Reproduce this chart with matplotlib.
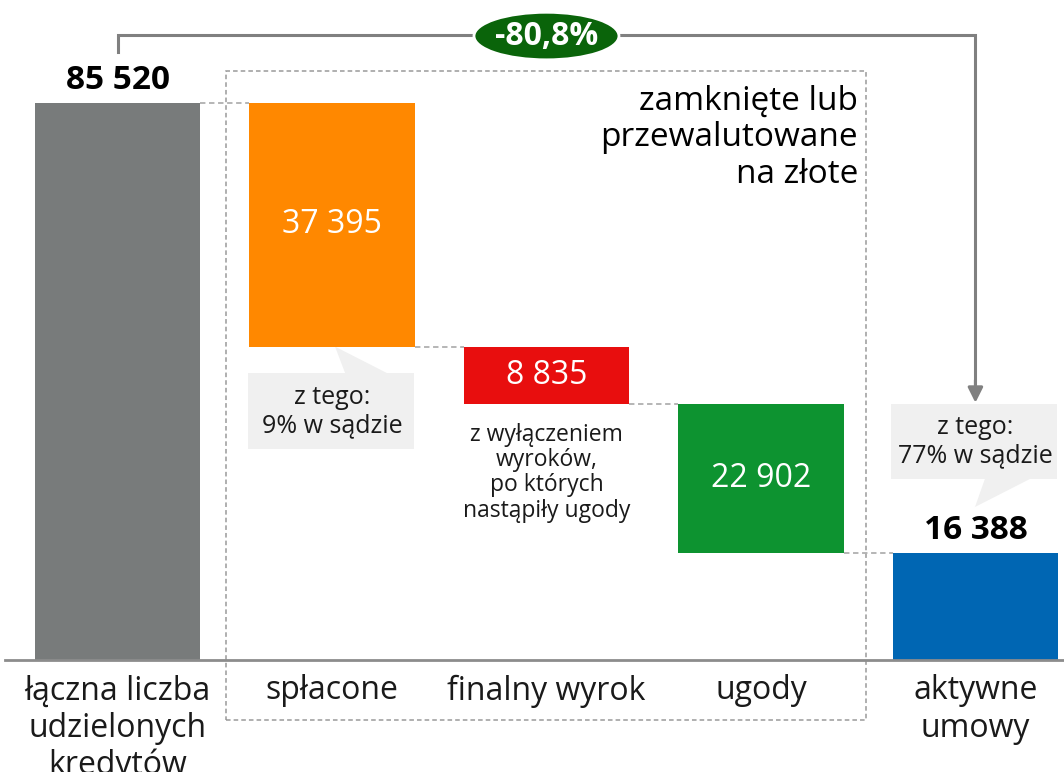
import numpy as np
import matplotlib
matplotlib.use('Agg')
import matplotlib.pyplot as plt
import matplotlib.patches as patches

plt.rcParams['font.family'] = ['Open Sans', 'DejaVu Sans']

# data
categories = ['łączna liczba\nudzielonych\nkredytów', 'spłacone', 'finalny wyrok', 'ugody', 'aktywne\numowy']
values = [85520, 37395, 8835, 22902, 16388]
is_total = [True, False, False, False, True]
colors = ['#787b7b', '#ff8800', '#e80e0e', '#0d9330', '#0066b3']
value_labels = ['85 520', '37 395', '8 835', '22 902', '16 388']
change_label = '-80,8%'
group_label = 'zamknięte lub\nprzewalutowane\nna złote'
note_splacone = 'z tego:\n9% w sądzie'
note_aktywne = 'z tego:\n77% w sądzie'
note_wyrok = 'z wyłączeniem\nwyroków,\npo których\nnastąpiły ugody'

# waterfall bottoms
bottoms = []
level = 0
for v, tot in zip(values, is_total):
    if tot:
        bottoms.append(0)
        level = v
    else:
        level -= v
        bottoms.append(level)
tops = [b + v for b, v in zip(bottoms, values)]

x = np.arange(len(values))
w = 0.77

fig = plt.figure(figsize=(10.64, 7.72), dpi=100)
ax = fig.add_axes([0, 0, 1, 1])
ax.set_xlim(-0.548, 4.413)
ax.set_ylim(-17196, 101335)
ax.axis('off')

ax.bar(x, values, bottom=bottoms, width=w, color=colors, zorder=3)

# baseline
ax.axhline(0, xmin=0.005, xmax=1, color='#8c8c8c', lw=2, zorder=4)

# connectors between bars
for i in range(len(values) - 1):
    y = tops[i] if is_total[i] else bottoms[i]
    ax.plot([x[i] + w / 2, x[i + 1] - w / 2], [y, y], color='#b0b0b0',
            lw=1.3, ls=(0, (3, 2)), zorder=2)

# dashed group frame
frame = patches.Rectangle((0.506, -9212), 3.49 - 0.506, 90433 + 9212, fill=False,
                          edgecolor='#9a9a9a', lw=1.1, ls=(0, (3, 2)), zorder=1)
ax.add_patch(frame)
ax.text(3.452, 80151, group_label, ha='right', va='center', fontsize=24,
        color='black', linespacing=1.13, zorder=5)

# value labels
for i in range(len(values)):
    if is_total[i]:
        ax.text(x[i], tops[i] + 3500, value_labels[i], ha='center', va='center',
                fontsize=24, fontweight='bold', color='black')
    else:
        ax.text(x[i], (tops[i] + bottoms[i]) / 2, value_labels[i], ha='center',
                va='center', fontsize=23, color='white', zorder=5)

# category labels
for i, c in enumerate(categories):
    ax.text(x[i], -2200, c, ha='center', va='top', fontsize=23, color='#1a1a1a',
            linespacing=1.17)

# bracket with arrow
yb = 95960
ax.plot([x[0], x[0], x[4], x[4]], [93350, yb, yb, 42500], color='#808080',
        lw=2.2, solid_joinstyle='miter', zorder=2)
ax.annotate('', xy=(x[4], 39500), xytext=(x[4], 43000),
            arrowprops=dict(arrowstyle='-|>,head_width=0.45,head_length=0.9',
                            color='#808080', lw=2.2, shrinkA=0, shrinkB=0))
ell = patches.Ellipse((2, 95800), 0.676, 7300, facecolor='#0a640a', edgecolor='white',
                      lw=2, zorder=5)
ax.add_patch(ell)
ax.text(2, 95800, change_label, ha='center', va='center', fontsize=23,
        fontweight='bold', color='white', zorder=6)

# callouts
box_col = '#f0f0f0'
b1 = patches.Rectangle((1 - 0.392, 32395), 0.774, 44060 - 32395, facecolor=box_col,
                       edgecolor='none', zorder=2)
ax.add_patch(b1)
ax.add_patch(patches.Polygon([[1.061, 44060], [1.256, 44060], [1.014, bottoms[1]]],
                             closed=True, facecolor=box_col, edgecolor='none', zorder=2))
ax.text(1, 38075, note_splacone, ha='center', va='center', fontsize=18,
        color='#1a1a1a', linespacing=1.18, zorder=3)

b2 = patches.Rectangle((3.606, 27793), 0.774, 39306 - 27793, facecolor=box_col,
                       edgecolor='none', zorder=2)
ax.add_patch(b2)
ax.add_patch(patches.Polygon([[4.044, 27793], [4.254, 27793], [3.998, 23490]],
                             closed=True, facecolor=box_col, edgecolor='none', zorder=2))
ax.text(4, 33472, note_aktywne, ha='center', va='center', fontsize=18,
        color='#1a1a1a', linespacing=1.18, zorder=3)

ax.text(2, 28760, note_wyrok, ha='center', va='center', fontsize=16.5,
        color='#1a1a1a', linespacing=1.08)

fig.savefig('out.png', dpi=100)
